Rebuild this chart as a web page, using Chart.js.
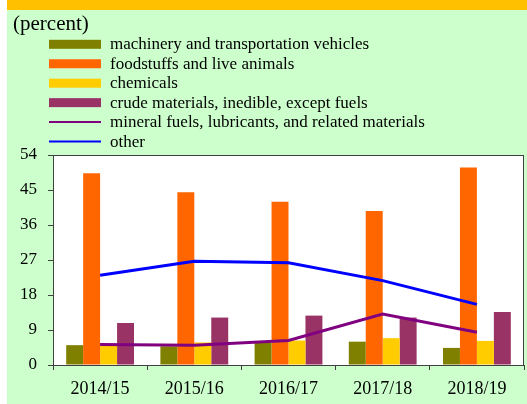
<!DOCTYPE html>
<html>
<head>
<meta charset="utf-8">
<script src="https://cdn.jsdelivr.net/npm/chart.js@4.4.1/dist/chart.umd.min.js"></script>
<style>
  html, body { margin: 0; padding: 0; background: #fff; }
  #wrap {
    position: absolute; left: 7px; top: 0;
    width: 520px; height: 404px;
    background: #CCFFCC;
    border-top: 10px solid #FFC000;
    box-sizing: border-box;
  }
  canvas { display: block; }
</style>
</head>
<body>
<div id="wrap"><canvas id="myChart" width="520" height="394"></canvas></div>
<script>
const years = ['2014/15', '2015/16', '2016/17', '2017/18', '2018/19'];

const machinery = [5.1, 4.8, 5.7, 6.0, 4.4];
const foodstuffs = [49.3, 44.4, 42.0, 39.6, 50.8];
const chemicals = [5.2, 5.8, 6.3, 6.9, 6.2];
const crudeMaterials = [10.8, 12.2, 12.7, 12.2, 13.6];
const mineralFuels = [5.3, 5.1, 6.3, 13.1, 8.4];
const other = [23.1, 26.7, 26.3, 21.7, 15.6];

const yTicks = [0, 9, 18, 27, 36, 45, 54];

const serif = '"Liberation Serif", "Times New Roman", serif';
const axisColor = '#404040';

// white plot area + frame
const plotArea = {
  id: 'plotArea',
  beforeDraw(chart) {
    const { ctx, chartArea: a } = chart;
    ctx.save();
    ctx.fillStyle = '#fff';
    ctx.fillRect(a.left, a.top, a.right - a.left, a.bottom - a.top);
    ctx.restore();
  },
  afterDraw(chart) {
    const { ctx, chartArea: a } = chart;
    ctx.save();
    ctx.strokeStyle = axisColor;
    ctx.lineWidth = 1;
    ctx.strokeRect(a.left + 0.5, a.top + 0.5, a.right - a.left - 1, a.bottom - a.top);
    ctx.restore();
  }
};

// title and one-item-per-row legend
const boxLegend = {
  id: 'boxLegend',
  afterDraw(chart) {
    const ctx = chart.ctx;
    ctx.save();
    ctx.fillStyle = '#000';
    ctx.textBaseline = 'middle';
    ctx.font = '21px ' + serif;
    ctx.fillText('(percent)', 6, 14.5);
    ctx.font = '17px ' + serif;
    chart.data.datasets.forEach((ds, i) => {
      const y = 34.3 + i * 19.45;
      if (ds.type === 'line') {
        ctx.strokeStyle = ds.borderColor;
        ctx.lineWidth = 2;
        ctx.beginPath();
        ctx.moveTo(42, y);
        ctx.lineTo(94, y);
        ctx.stroke();
      } else {
        ctx.fillStyle = ds.backgroundColor;
        ctx.fillRect(42, y - 4.5, 52, 9);
      }
      ctx.fillStyle = '#000';
      ctx.fillText(ds.label, 103, y + 0.5);
    });
    ctx.restore();
  }
};

const barDefaults = { type: 'bar', order: 1, borderWidth: 0 };
const lineDefaults = { type: 'line', order: 0, borderWidth: 3, pointRadius: 0, fill: false, tension: 0 };

new Chart(document.getElementById('myChart'), {
  data: {
    labels: years,
    datasets: [
      { ...barDefaults, label: 'machinery and transportation vehicles', data: machinery, backgroundColor: '#808000' },
      { ...barDefaults, label: 'foodstuffs and live animals', data: foodstuffs, backgroundColor: '#FF6600' },
      { ...barDefaults, label: 'chemicals', data: chemicals, backgroundColor: '#FFCC00' },
      { ...barDefaults, label: 'crude materials, inedible, except fuels', data: crudeMaterials, backgroundColor: '#993366' },
      { ...lineDefaults, label: 'mineral fuels, lubricants, and related materials', data: mineralFuels, borderColor: '#800080', backgroundColor: '#800080' },
      { ...lineDefaults, label: 'other', data: other, borderColor: '#0000FF', backgroundColor: '#0000FF' }
    ]
  },
  options: {
    responsive: false,
    animation: false,
    datasets: { bar: { categoryPercentage: 0.72, barPercentage: 1 } },
    layout: { padding: { top: 145, right: 3, left: 0, bottom: 0 } },
    plugins: { legend: { display: false }, tooltip: { enabled: false } },
    scales: {
      x: {
        offset: true,
        grid: { offset: true, drawOnChartArea: false, tickLength: 5, color: axisColor },
        border: { color: axisColor },
        ticks: { color: '#000', font: { family: serif, size: 18 }, padding: 8, maxRotation: 0 },
        afterFit: s => { s.height = 39; }
      },
      y: {
        min: 0, max: 54,
        afterBuildTicks: s => { s.ticks = yTicks.map(v => ({ value: v })); },
        grid: { drawOnChartArea: false, tickLength: 5, color: axisColor },
        border: { color: axisColor },
        ticks: { color: '#000', font: { family: serif, size: 17 }, padding: 11 },
        afterFit: s => { s.width = 46; }
      }
    }
  },
  plugins: [plotArea, boxLegend]
});
</script>
</body>
</html>
